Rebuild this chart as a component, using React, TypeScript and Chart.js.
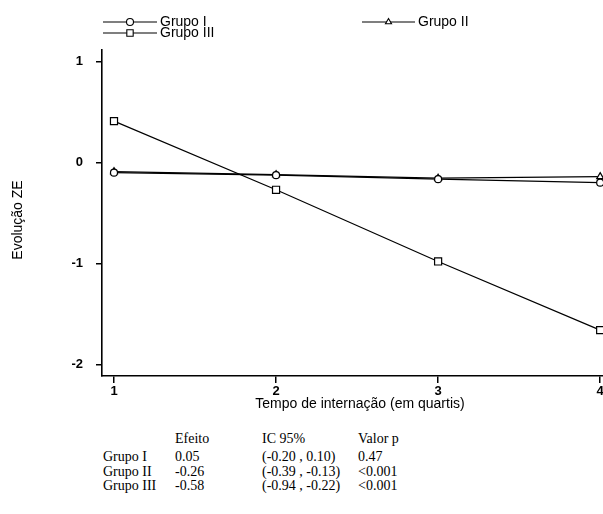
import React, { useEffect, useRef } from "react";
import { Chart, registerables } from "chart.js";
import { drawPoint } from "chart.js/helpers";

Chart.register(...registerables);

const quartis = [1, 2, 3, 4];
const grupoI = [-0.1, -0.125, -0.165, -0.2];
const grupoII = [-0.09, -0.12, -0.155, -0.14];
const grupoIII = [0.41, -0.27, -0.98, -1.66];
const seriesLabels = ["Grupo I", "Grupo II", "Grupo III"];
const xTicks = [1, 2, 3, 4];
const yTicks = [-2, -1, 0, 1];

const tableHeader = ["Efeito", "IC 95%", "Valor p"];
const tableGroups = ["Grupo I", "Grupo II", "Grupo III"];
const efeito = ["0.05", "-0.26", "-0.58"];
const ic95 = ["(-0.20 , 0.10)", "(-0.39 , -0.13)", "(-0.94 , -0.22)"];
const valorP = ["0.47", "<0.001", "<0.001"];

const SANS = '"Liberation Sans", Arial, Helvetica, sans-serif';
const SERIF = '"Liberation Serif", "Times New Roman", Times, serif';

const legendLayout = [
  { x1: 103, x2: 157, y: 22 },
  { x1: 362, x2: 415, y: 22 },
  { x1: 103, x2: 157, y: 33 },
];

const legendPlugin = {
  id: "refLegend",
  afterDraw(chart: any) {
    const ctx = chart.ctx;
    chart.data.datasets.forEach((ds: any, i: number) => {
      const p = legendLayout[i];
      ctx.save();
      ctx.strokeStyle = "#000";
      ctx.lineWidth = 1.1;
      ctx.beginPath();
      ctx.moveTo(p.x1, p.y);
      ctx.lineTo(p.x2, p.y);
      ctx.stroke();
      ctx.fillStyle = "#fff";
      ctx.strokeStyle = "#000";
      drawPoint(
        ctx,
        { pointStyle: ds.pointStyle, radius: ds.pointStyle === "rect" ? 4.5 : 3.5, borderWidth: 1.1, rotation: 0 },
        (p.x1 + p.x2) / 2,
        p.y
      );
      ctx.fillStyle = "#000";
      ctx.font = `14px ${SANS}`;
      ctx.textBaseline = "middle";
      ctx.textAlign = "left";
      ctx.fillText(ds.label, p.x2 + 3, p.y + 0.5);
      ctx.restore();
    });
  },
};

export default function App() {
  const ref = useRef<HTMLCanvasElement | null>(null);

  useEffect(() => {
    if (!ref.current) return;
    const mk = (vals: number[]) => quartis.map((q, i) => ({ x: q, y: vals[i] }));
    const common = {
      borderColor: "#000",
      borderWidth: 1.2,
      pointBackgroundColor: "#fff",
      pointBorderColor: "#000",
      pointBorderWidth: 1.2,
      fill: false,
      tension: 0,
    };
    const chart = new Chart(ref.current, {
      type: "line",
      data: {
        datasets: [
          { ...common, label: seriesLabels[0], data: mk(grupoI), pointStyle: "circle", pointRadius: 3.5 },
          { ...common, label: seriesLabels[1], data: mk(grupoII), pointStyle: "triangle", pointRadius: 4 },
          { ...common, label: seriesLabels[2], data: mk(grupoIII), pointStyle: "rect", pointRadius: 5 },
        ],
      },
      options: {
        responsive: false,
        animation: false,
        layout: { autoPadding: false, padding: { top: 50, left: 0, right: 0, bottom: 0 } },
        plugins: { legend: { display: false }, tooltip: { enabled: false } },
        scales: {
          x: {
            type: "linear",
            min: 0.926,
            max: 4.11,
            afterBuildTicks: (axis: any) => {
              axis.ticks = xTicks.map((v) => ({ value: v }));
            },
            afterFit: (scale: any) => {
              scale.height = 54;
              scale.paddingLeft = 0;
              scale.paddingRight = 0;
            },
            grid: { drawOnChartArea: false, drawTicks: true, tickLength: 7, color: "#000", lineWidth: 1.5 },
            border: { display: true, color: "#000", width: 1.6 },
            ticks: {
              color: "#000",
              padding: 1,
              font: { family: SANS, size: 13, weight: "bold" },
              callback: (v: any) => String(v),
            },
            title: {
              display: true,
              text: "Tempo de internação (em quartis)",
              color: "#000",
              font: { family: SANS, size: 14 },
              padding: { top: 0, bottom: 17.6 },
            },
          },
          y: {
            type: "linear",
            min: -2.115,
            max: 1.115,
            afterBuildTicks: (axis: any) => {
              axis.ticks = yTicks.map((v) => ({ value: v }));
            },
            afterFit: (scale: any) => {
              scale.width = 102;
              scale.paddingTop = 0;
              scale.paddingBottom = 0;
            },
            grid: { drawOnChartArea: false, drawTicks: true, tickLength: 6, color: "#000", lineWidth: 1.5 },
            border: { display: true, color: "#000", width: 1.6 },
            ticks: {
              color: "#000",
              padding: 13,
              font: { family: SANS, size: 13, weight: "bold" },
              callback: (v: any) => String(v),
            },
          },
        },
      },
      plugins: [legendPlugin],
    } as any);
    return () => chart.destroy();
  }, []);

  const cols = [175, 262, 358];
  const headerY = 439;
  const rowY = [457, 472, 486];
  const cell = (text: string, x: number, y: number, key: string) => (
    <span
      key={key}
      style={{ position: "absolute", left: x, top: y - 8, lineHeight: "16px", whiteSpace: "nowrap" }}
    >
      {text}
    </span>
  );

  return (
    <div
      style={{
        position: "absolute",
        left: 0,
        top: 0,
        width: 603,
        height: 514,
        overflow: "hidden",
        background: "#fff",
      }}
    >
      <canvas ref={ref} width={618} height={430} style={{ position: "absolute", left: 0, top: 0 }} />
      <div
        style={{
          position: "absolute",
          left: 17 - 60,
          top: 220 - 8,
          width: 120,
          lineHeight: "16px",
          textAlign: "center",
          transform: "rotate(-90deg)",
          fontFamily: SANS,
          fontSize: 14,
          color: "#000",
        }}
      >
        Evolução ZE
      </div>
      <div style={{ position: "absolute", left: 0, top: 0, fontFamily: SERIF, fontSize: 14, color: "#000" }}>
        {tableHeader.map((h, i) => cell(h, cols[i], headerY, "h" + i))}
        {tableGroups.map((g, r) => (
          <React.Fragment key={"r" + r}>
            {cell(g, 103, rowY[r], "g" + r)}
            {cell(efeito[r], cols[0], rowY[r], "e" + r)}
            {cell(ic95[r], cols[1], rowY[r], "c" + r)}
            {cell(valorP[r], cols[2], rowY[r], "p" + r)}
          </React.Fragment>
        ))}
      </div>
    </div>
  );
}
